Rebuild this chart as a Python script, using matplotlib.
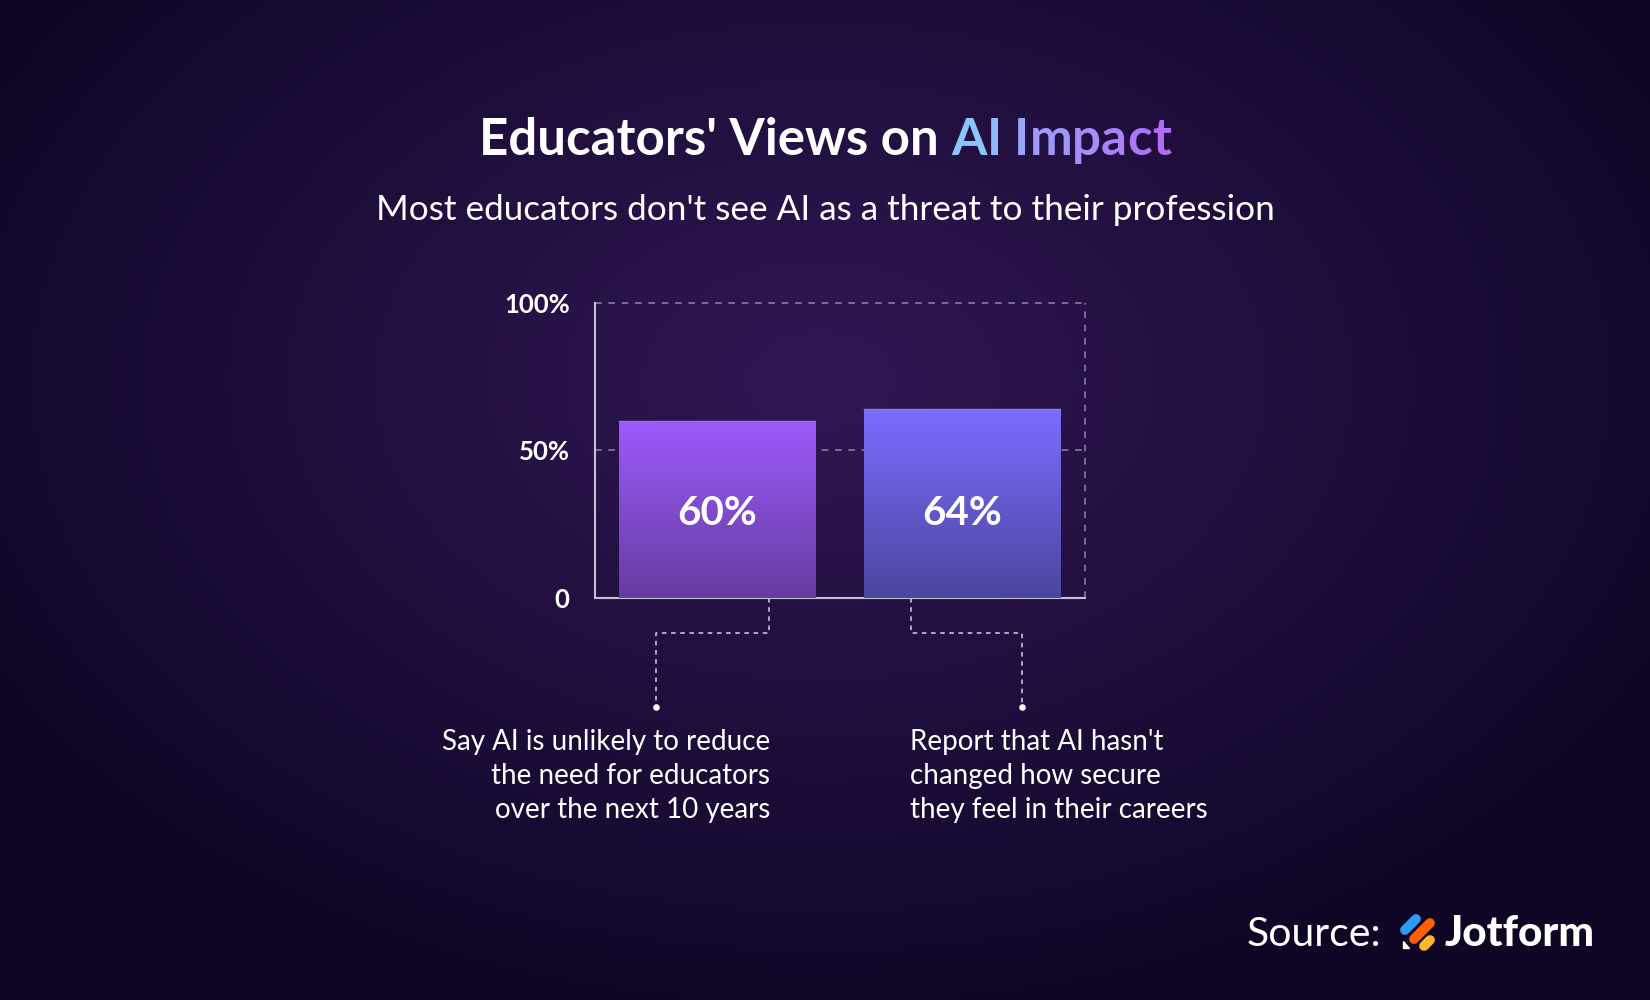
import numpy as np
import matplotlib.pyplot as plt
from matplotlib.colors import LinearSegmentedColormap
from matplotlib.patches import Polygon

# ----------------------------
# DATA
# ----------------------------
categories = ["Say AI is unlikely to reduce\nthe need for educators\nover the next 10 years",
              "Report that AI hasn't\nchanged how secure\nthey feel in their careers"]
values = [60, 64]
value_labels = ["60%", "64%"]
yticks = [0, 50, 100]
ytick_labels = ["0", "50%", "100%"]

title_plain = "Educators' Views on "
title_accent = "AI Impact"
subtitle = "Most educators don't see AI as a threat to their profession"

FONT = "Lato"
W, H = 1650, 1000

fig = plt.figure(figsize=(W / 100, H / 100), dpi=100)

# ----------------------------
# BACKGROUND (radial glow)
# ----------------------------
bg = fig.add_axes([0, 0, 1, 1])
bg.set_axis_off()
yy, xx = np.mgrid[0:H, 0:W]
r = np.sqrt(((xx - 820) / 950) ** 2 + ((yy - 380) / 640) ** 2)
r = np.clip(r, 0, 1)
inner = np.array([47, 23, 82]) / 255
outer = np.array([15, 6, 38]) / 255
t = r[..., None] ** 1.1
img = inner * (1 - t) + outer * t
bg.imshow(img, extent=[0, W, 0, H], origin="upper", aspect="auto")
bg.set_xlim(0, W)
bg.set_ylim(0, H)

# ----------------------------
# TITLE (gradient accent drawn char by char)
# ----------------------------
renderer = fig.canvas.get_renderer()
title_y = H - 155
tsize = 36.7


def text_w(s):
    # width of a string including trailing spaces
    a = bg.text(0, 0, s + "x", fontsize=tsize, fontweight="bold", family=FONT)
    b = bg.text(0, 0, "x", fontsize=tsize, fontweight="bold", family=FONT)
    w = a.get_window_extent(renderer).width - b.get_window_extent(renderer).width
    a.remove(); b.remove()
    return w


total_w = text_w(title_plain + title_accent)
c0 = np.array([0x8c, 0xc4, 0xff]) / 255
c1 = np.array([0xb0, 0x6c, 0xf2]) / 255
x = W / 2 - total_w / 2
parts = [(title_plain, None)] + [(ch, i) for i, ch in enumerate(title_accent)]
drawn = ""
for txt, idx in parts:
    if idx is None:
        col = "white"
    else:
        f = idx / (len(title_accent) - 1)
        col = c0 * (1 - f) + c1 * f
    off = text_w(drawn) if drawn else 0
    bg.text(x + off, title_y, txt, fontsize=tsize, fontweight="bold", family=FONT,
            color=col, ha="left", va="baseline")
    drawn += txt

bg.text(W / 2, H - 220, subtitle, fontsize=25.3, color="white", family=FONT,
        ha="center", va="baseline")

# ----------------------------
# BAR CHART
# ----------------------------
ax_l, ax_r, ax_t, ax_b = 594.6, 1085, 303, 597.7
ax = fig.add_axes([ax_l / W, 1 - ax_b / H, (ax_r - ax_l) / W, (ax_b - ax_t) / H])
ax.patch.set_alpha(0)

grad1 = LinearSegmentedColormap.from_list("g1", ["#663ba0", "#9b5bfb"])
grad2 = LinearSegmentedColormap.from_list("g2", ["#4a469e", "#7b6dfd"])
xs = np.arange(len(values))
bars = ax.bar(xs, values, width=0.8, color="none", edgecolor="none", zorder=3)
for b, cmap in zip(bars, [grad1, grad2]):
    x0, w, h = b.get_x(), b.get_width(), b.get_height()
    grad = np.linspace(0, 1, 256)[:, None]
    ax.imshow(grad, cmap=cmap, origin="lower", aspect="auto",
              extent=[x0, x0 + w, 0, h], zorder=3)
    ax.plot([x0, x0 + w], [h, h], color="white", alpha=0.12, lw=1.2, zorder=4)
ax.set_xlim(-0.5, 1.5)
ax.set_ylim(0, 100)

for xi, lab in zip(xs, value_labels):
    ax.text(xi, 28.5, lab, ha="center", va="center", color="white",
            fontsize=29, fontweight="bold", family=FONT, zorder=5)

ax.axhline(50, color="#8a7a9e", lw=1.2, ls=(0, (4, 4)), zorder=1)
ax.axhline(100, color="#8a7a9e", lw=1.2, ls=(0, (4, 4)), zorder=1, clip_on=False)
ax.axvline(1.5, color="#8a7a9e", lw=1.2, ls=(0, (4, 4)), zorder=1, clip_on=False)
for s in ["top", "right"]:
    ax.spines[s].set_visible(False)
for s in ["left", "bottom"]:
    ax.spines[s].set_color("#c8c0d4")
    ax.spines[s].set_linewidth(1.5)
ax.set_xticks([])
ax.set_yticks(yticks)
ax.set_yticklabels(ytick_labels)
ax.tick_params(axis="y", length=0, pad=18, labelsize=18.5, labelcolor="white")
for lab in ax.get_yticklabels():
    lab.set_family(FONT)
    lab.set_fontweight("bold")

# ----------------------------
# CONNECTORS + CATEGORY LABELS
# ----------------------------
conn_x = [0.21, 0.79]
dot_x = [-0.25, 1.245]
elbow_y, dot_y = -12.1, -37.1
lc = "#d8d2e2"
for cx, dx in zip(conn_x, dot_x):
    ax.plot([cx, cx, dx, dx], [0, elbow_y, elbow_y, dot_y], color=lc, lw=1.1,
            ls=(0, (3, 3)), clip_on=False, zorder=2)
    ax.scatter([dx], [dot_y], s=14, color="white", clip_on=False, zorder=3)

ax.text(0.215, -44.6, categories[0], ha="right", va="top", color="white",
        fontsize=20, family=FONT, linespacing=1.38)
ax.text(0.785, -44.6, categories[1], ha="left", va="top", color="white",
        fontsize=20, family=FONT, linespacing=1.38)

# ----------------------------
# SOURCE + LOGO
# ----------------------------
bg.text(1247, H - 946, "Source:", fontsize=29.5, color="white", family=FONT,
        ha="left", va="baseline")
bg.text(1595, H - 946, "Jotform", fontsize=30.5, color="white", family=FONT,
        fontweight="black", ha="right", va="baseline")
pills = [((1405, 930), (1416, 919), "#2f9cf4"),
         ((1414, 939), (1430, 923), "#ff6100"),
         ((1424, 946), (1430, 940), "#ffb629")]
for (xa, ya), (xb, yb), col in pills:
    bg.plot([xa, xb], [H - ya, H - yb], color=col, lw=7, solid_capstyle="round")
bg.add_patch(Polygon([[1403, H - 941], [1403, H - 948], [1409, H - 948]],
                     closed=True, color="white"))

fig.savefig("out.png", dpi=100)
